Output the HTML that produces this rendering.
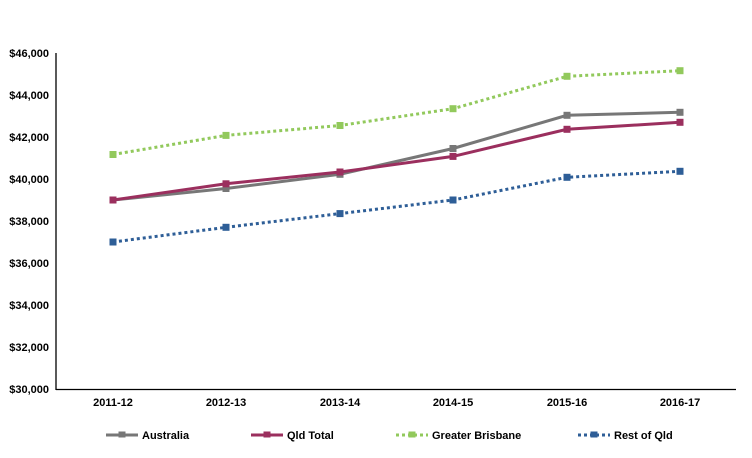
<!DOCTYPE html>
<html><head><style>
body{margin:0;background:#fff;}
svg text{font-family:"Liberation Sans",Arial,sans-serif;font-weight:bold;font-size:11px;fill:#000;}
</style></head><body>
<svg width="752" height="453" xmlns="http://www.w3.org/2000/svg">
<line x1="56" y1="53" x2="56" y2="390" stroke="#000" stroke-width="1.3"/>
<line x1="56" y1="389.5" x2="736" y2="389.5" stroke="#000" stroke-width="1.3"/>
<g text-anchor="end">
<text x="49" y="57">$46,000</text>
<text x="49" y="99">$44,000</text>
<text x="49" y="141">$42,000</text>
<text x="49" y="183">$40,000</text>
<text x="49" y="225">$38,000</text>
<text x="49" y="267">$36,000</text>
<text x="49" y="309">$34,000</text>
<text x="49" y="351">$32,000</text>
<text x="49" y="393">$30,000</text>
</g>
<g text-anchor="middle">
<text x="113" y="406">2011-12</text>
<text x="226" y="406">2012-13</text>
<text x="340" y="406">2013-14</text>
<text x="453" y="406">2014-15</text>
<text x="567" y="406">2015-16</text>
<text x="680" y="406">2016-17</text>
</g>
<!-- Greater Brisbane -->
<polyline points="113,154.5 226,163.6 340,125.5 453,108.7 567,76.3 680,70.7" fill="none" stroke="none"/>
<polyline points="113,154.5 226,135.4 340,125.5 453,108.7 567,76.3 680,70.7" fill="none" stroke="#92c95c" stroke-width="3" stroke-dasharray="3,3"/>
<g fill="#92c95c"><rect x="109.5" y="151" width="7" height="7"/><rect x="222.5" y="131.9" width="7" height="7"/><rect x="336.5" y="122" width="7" height="7"/><rect x="449.5" y="105.2" width="7" height="7"/><rect x="563.5" y="72.8" width="7" height="7"/><rect x="676.5" y="67.2" width="7" height="7"/></g>
<!-- Rest of Qld -->
<polyline points="113,242 226,227.3 340,213.6 453,200 567,177.3 680,171.3" fill="none" stroke="#2e5e97" stroke-width="3" stroke-dasharray="3,3"/>
<g fill="#2e5e97"><rect x="109.5" y="238.5" width="7" height="7"/><rect x="222.5" y="223.8" width="7" height="7"/><rect x="336.5" y="210.1" width="7" height="7"/><rect x="449.5" y="196.5" width="7" height="7"/><rect x="563.5" y="173.8" width="7" height="7"/><rect x="676.5" y="167.8" width="7" height="7"/></g>
<!-- Australia -->
<polyline points="113,200 226,188.5 340,174.3 453,148.5 567,115.3 680,112.3" fill="none" stroke="#777" stroke-width="3"/>
<g fill="#777"><rect x="109.5" y="196.5" width="7" height="7"/><rect x="222.5" y="185" width="7" height="7"/><rect x="336.5" y="170.8" width="7" height="7"/><rect x="449.5" y="145" width="7" height="7"/><rect x="563.5" y="111.8" width="7" height="7"/><rect x="676.5" y="108.8" width="7" height="7"/></g>
<!-- Qld Total -->
<polyline points="113,200 226,183.8 340,172 453,156.4 567,129.3 680,122.3" fill="none" stroke="#9b2f5e" stroke-width="3"/>
<g fill="#9b2f5e"><rect x="109.5" y="196.5" width="7" height="7"/><rect x="222.5" y="180.3" width="7" height="7"/><rect x="336.5" y="168.5" width="7" height="7"/><rect x="449.5" y="152.9" width="7" height="7"/><rect x="563.5" y="125.8" width="7" height="7"/><rect x="676.5" y="118.8" width="7" height="7"/></g>
<!-- Legend -->
<line x1="106" y1="435" x2="138" y2="435" stroke="#777" stroke-width="3"/><rect x="118.5" y="431.5" width="7" height="6" fill="#777"/>
<text x="142" y="439">Australia</text>
<line x1="251" y1="435" x2="283" y2="435" stroke="#9b2f5e" stroke-width="3"/><rect x="263.5" y="431.5" width="7" height="6" fill="#9b2f5e"/>
<text x="287" y="439">Qld Total</text>
<line x1="396" y1="435" x2="428" y2="435" stroke="#92c95c" stroke-width="3" stroke-dasharray="3,3"/><rect x="408.5" y="431.5" width="7" height="6" fill="#92c95c"/>
<text x="432" y="439">Greater Brisbane</text>
<line x1="578" y1="435" x2="610" y2="435" stroke="#2e5e97" stroke-width="3" stroke-dasharray="3,3"/><rect x="590.5" y="431.5" width="7" height="6" fill="#2e5e97"/>
<text x="614" y="439">Rest of Qld</text>
</svg>
</body></html>
